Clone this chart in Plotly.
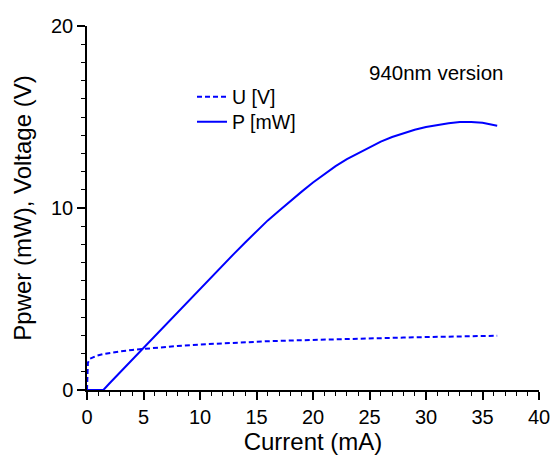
import plotly.graph_objects as go

# Current (mA) and power (mW)
current_p = [0, 1.45, 2, 3, 4, 5, 6, 7, 8, 9, 10, 11, 12, 13, 14, 15, 16, 17, 18, 19,
             20, 21, 22, 23, 24, 25, 26, 27, 28, 29, 30, 31, 32, 33, 34, 35, 36.3]
power_mw = [0, 0, 0.37, 1.02, 1.68, 2.3, 2.95, 3.62, 4.28, 4.93, 5.58, 6.2, 6.85, 7.48,
            8.1, 8.72, 9.32, 9.85, 10.4, 10.9, 11.4, 11.85, 12.3, 12.68, 13.0, 13.35,
            13.65, 13.9, 14.1, 14.3, 14.45, 14.57, 14.66, 14.72, 14.73, 14.68, 14.52]

# Current (mA) and voltage (V)
current_u = [0, 0.03, 0.08, 0.27, 0.6, 0.85, 1.5, 2.3, 3, 4, 5, 6, 8, 10, 12, 14, 16,
             18, 20, 22, 24, 26, 28, 30, 32, 34, 36.3]
voltage_v = [0, 1.0, 1.5, 1.72, 1.82, 1.88, 1.98, 2.07, 2.13, 2.2, 2.26, 2.32, 2.42,
             2.5, 2.57, 2.63, 2.68, 2.72, 2.76, 2.8, 2.83, 2.86, 2.88, 2.91, 2.93,
             2.96, 2.98]

x_ticks = [0, 5, 10, 15, 20, 25, 30, 35, 40]
y_ticks = [0, 10, 20]

FONT = "Liberation Sans, Arial, sans-serif"
BLUE = "#0000FF"

fig = go.Figure()
fig.add_trace(go.Scatter(x=current_u, y=voltage_v, mode="lines", name="U [V]",
                         legend="legend",
                         line=dict(color=BLUE, width=2, dash="5px,3px")))
fig.add_trace(go.Scatter(x=current_p, y=power_mw, mode="lines", name="P [mW]",
                         legend="legend2",
                         line=dict(color=BLUE, width=2)))

axis_common = dict(
    automargin=False, ticklabeloverflow="allow",
    showgrid=False, zeroline=False, showline=True, linecolor="black", linewidth=1.5,
    ticks="outside", ticklen=8, tickwidth=1.5, tickcolor="black",
    tickfont=dict(family=FONT, size=20, color="black"),
    minor=dict(ticks="outside", ticklen=4, tickwidth=1.2, tickcolor="black", dtick=1),
)

fig.update_xaxes(range=[0, 40], tickvals=x_ticks, ticktext=[str(v) for v in x_ticks],
                 title=dict(text="Current (mA)", font=dict(family=FONT, size=24, color="black"),
                            standoff=0),
                 **axis_common)
fig.update_yaxes(range=[0, 20], tickvals=y_ticks, ticktext=[str(v) for v in y_ticks],
                 title=dict(text="Ppwer (mW), Voltage (V)",
                            font=dict(family=FONT, size=24, color="black"), standoff=13),
                 **axis_common)

fig.add_annotation(text="940nm version", xref="paper", yref="paper",
                   x=(367 - 87) / 452, y=(390 - 72) / 364, xanchor="left", yanchor="middle",
                   showarrow=False, font=dict(family=FONT, size=20.5, color="black"))

legend_common = dict(xanchor="left", yanchor="middle", bgcolor="rgba(0,0,0,0)",
                     font=dict(family=FONT, size=19.5, color="black"), itemwidth=30)

fig.update_layout(
    width=550, height=463,
    margin=dict(l=87, r=11, t=26, b=73),
    paper_bgcolor="white", plot_bgcolor="white",
    showlegend=True,
    legend=dict(x=(192 - 87) / 452, y=(390 - 97) / 364, **legend_common),
    legend2=dict(x=(192 - 87) / 452, y=(390 - 122) / 364, **legend_common),
)

fig.write_html("out.html", config={"displayModeBar": False},
               post_script="document.body.style.margin='0';")
